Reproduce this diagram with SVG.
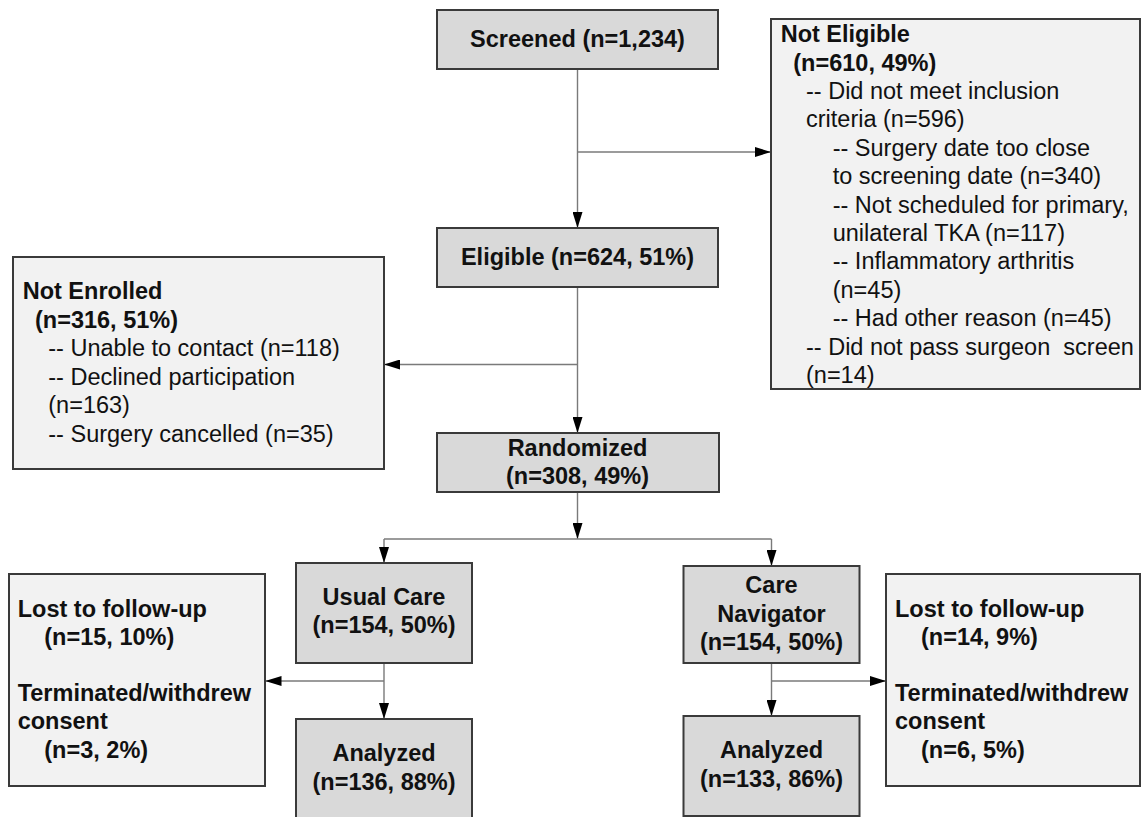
<svg xmlns="http://www.w3.org/2000/svg" width="1141" height="817" viewBox="0 0 1141 817">
<defs>
<style>
.main{fill:#d9d9d9;stroke:#3a3a3a;stroke-width:2}
.side{fill:#f2f2f2;stroke:#3a3a3a;stroke-width:2}
text{font-family:"Liberation Sans",Arial,sans-serif;font-size:23.5px;fill:#111}
.b{font-weight:bold}
.c{text-anchor:middle}
.ln{fill:none;stroke:#7a7a7a;stroke-width:1.4}
</style>
<marker id="ah" markerUnits="userSpaceOnUse" markerWidth="16" markerHeight="10" refX="16" refY="5" orient="auto">
<path d="M0,0 L16,5 L0,10 z" fill="#000"/>
</marker>
</defs>
<rect width="1141" height="817" fill="#fff"/>

<g id="connectors">
<line class="ln" x1="577.5" y1="69" x2="577.5" y2="228" marker-end="url(#ah)"/>
<line class="ln" x1="577.5" y1="152" x2="771" y2="152" marker-end="url(#ah)"/>
<line class="ln" x1="577.5" y1="287" x2="577.5" y2="433" marker-end="url(#ah)"/>
<line class="ln" x1="577.5" y1="364.5" x2="384" y2="364.5" marker-end="url(#ah)"/>
<line class="ln" x1="577.5" y1="492" x2="577.5" y2="539" marker-end="url(#ah)"/>
<line class="ln" x1="384" y1="539" x2="771.5" y2="539"/>
<line class="ln" x1="384" y1="539" x2="384" y2="563" marker-end="url(#ah)"/>
<line class="ln" x1="771.5" y1="539" x2="771.5" y2="566" marker-end="url(#ah)"/>
<line class="ln" x1="384" y1="663" x2="384" y2="719" marker-end="url(#ah)"/>
<line class="ln" x1="384" y1="681" x2="265.5" y2="681" marker-end="url(#ah)"/>
<line class="ln" x1="771.5" y1="663" x2="771.5" y2="716" marker-end="url(#ah)"/>
<line class="ln" x1="771.5" y1="681" x2="886" y2="681" marker-end="url(#ah)"/>
</g>

<g id="screened">
<rect class="main" x="437" y="10" width="281" height="59"/>
<text class="b c" x="577.5" y="47">Screened (n=1,234)</text>
</g>

<g id="not-eligible">
<rect class="side" x="771" y="19" width="369" height="370"/>
<text class="b" x="780.7" y="42.3">Not Eligible</text>
<text class="b" x="793.3" y="70.7">(n=610, 49%)</text>
<text x="806" y="99">-- Did not meet inclusion</text>
<text x="806" y="127.4">criteria (n=596)</text>
<text x="832.7" y="155.8">-- Surgery date too close</text>
<text x="832.7" y="184.2">to screening date (n=340)</text>
<text x="832.7" y="212.6">-- Not scheduled for primary,</text>
<text x="832.7" y="241">unilateral TKA (n=117)</text>
<text x="832.7" y="269.4">-- Inflammatory arthritis</text>
<text x="832.7" y="297.8">(n=45)</text>
<text x="832.7" y="326.2">-- Had other reason (n=45)</text>
<text x="806" y="354.6" xml:space="preserve">-- Did not pass surgeon  screen</text>
<text x="806" y="383">(n=14)</text>
</g>

<g id="eligible">
<rect class="main" x="437" y="228" width="281" height="59"/>
<text class="b c" x="577.5" y="265">Eligible (n=624, 51%)</text>
</g>

<g id="not-enrolled">
<rect class="side" x="13" y="257" width="371" height="212"/>
<text class="b" x="22.7" y="299.3">Not Enrolled</text>
<text class="b" x="35" y="328">(n=316, 51%)</text>
<text x="48.3" y="356.3">-- Unable to contact (n=118)</text>
<text x="48.3" y="384.6">-- Declined participation</text>
<text x="48.3" y="413">(n=163)</text>
<text x="48.3" y="441.5">-- Surgery cancelled (n=35)</text>
</g>

<g id="randomized">
<rect class="main" x="437" y="433" width="282" height="59"/>
<text class="b c" x="577.5" y="456">Randomized</text>
<text class="b c" x="577.5" y="484">(n=308, 49%)</text>
</g>

<g id="usual-care">
<rect class="main" x="296" y="563" width="176" height="100"/>
<text class="b c" x="384" y="605">Usual Care</text>
<text class="b c" x="384" y="633.3">(n=154, 50%)</text>
</g>

<g id="lost-left">
<rect class="side" x="9" y="574" width="256" height="212"/>
<text class="b" x="17.7" y="616.7">Lost to follow-up</text>
<text class="b" x="44.3" y="645">(n=15, 10%)</text>
<text class="b" x="17.7" y="701">Terminated/withdrew</text>
<text class="b" x="17.7" y="729.3">consent</text>
<text class="b" x="44.3" y="757.7">(n=3, 2%)</text>
</g>

<g id="analyzed-left">
<rect class="main" x="296" y="719" width="176" height="110"/>
<text class="b c" x="384" y="760.7">Analyzed</text>
<text class="b c" x="384" y="790">(n=136, 88%)</text>
</g>

<g id="care-navigator">
<rect class="main" x="683.5" y="566" width="176" height="97"/>
<text class="b c" x="771.5" y="592.7">Care</text>
<text class="b c" x="771.5" y="621.5">Navigator</text>
<text class="b c" x="771.5" y="650">(n=154, 50%)</text>
</g>

<g id="lost-right">
<rect class="side" x="886" y="574" width="254" height="212"/>
<text class="b" x="895" y="616.7">Lost to follow-up</text>
<text class="b" x="921" y="645">(n=14, 9%)</text>
<text class="b" x="895" y="701">Terminated/withdrew</text>
<text class="b" x="895" y="729.3">consent</text>
<text class="b" x="921" y="757.7">(n=6, 5%)</text>
</g>

<g id="analyzed-right">
<rect class="main" x="683.5" y="716" width="176" height="100"/>
<text class="b c" x="771.5" y="758.3">Analyzed</text>
<text class="b c" x="771.5" y="786.7">(n=133, 86%)</text>
</g>
</svg>
